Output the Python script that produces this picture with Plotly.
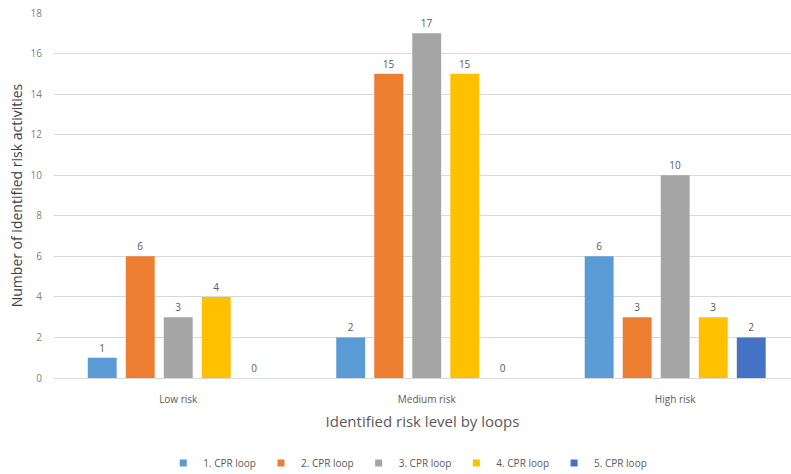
import plotly.graph_objects as go

categories = ["Low risk", "Medium risk", "High risk"]
series_names = ["1. CPR loop", "2. CPR loop", "3. CPR loop", "4. CPR loop", "5. CPR loop"]
loop1 = [1, 2, 6]
loop2 = [6, 15, 3]
loop3 = [3, 17, 10]
loop4 = [4, 15, 3]
loop5 = [0, 0, 2]
colors = ["#5B9BD5", "#ED7D31", "#A5A5A5", "#FFC000", "#4472C4"]

W, H = 791, 474
fig = go.Figure()
for name, vals, col in zip(series_names, [loop1, loop2, loop3, loop4, loop5], colors):
    fig.add_trace(go.Bar(
        x=categories, y=vals, name=name, showlegend=False,
        marker=dict(color=col, line=dict(width=0)),
        text=[str(v) for v in vals], textposition="outside",
        textfont=dict(size=10, color="#595959"),
        cliponaxis=False,
    ))

# small square legend keys
for name, col in zip(series_names, colors):
    fig.add_trace(go.Scatter(
        x=[None], y=[None], mode="markers", name=name,
        marker=dict(symbol="square", size=7, color=col),
    ))

fig.update_layout(
    width=W, height=H,
    margin=dict(l=54, r=0, t=13, b=96, autoexpand=False),
    paper_bgcolor="white", plot_bgcolor="white",
    font=dict(family="Open Sans, sans-serif", color="#595959"),
    barmode="group", bargap=0.235, bargroupgap=0.24,
    uniformtext=dict(minsize=9, mode="show"),
    xaxis=dict(
        type="category", range=[-0.5, 2.466],
        showgrid=False, showline=False,
        ticks="outside", ticklen=12, tickcolor="rgba(0,0,0,0)",
        tickfont=dict(size=10, color="#595959"),
        title=dict(text="Identified risk level by loops", font=dict(size=15, color="#595959"), standoff=11),
    ),
    yaxis=dict(
        range=[0, 18], dtick=2, showgrid=True, gridcolor="#D9D9D9", gridwidth=1,
        zeroline=True, zerolinecolor="#D9D9D9", zerolinewidth=1,
        showline=False,
        ticks="outside", ticklen=9, tickcolor="rgba(0,0,0,0)",
        tickfont=dict(size=10, color="#7F7F7F"),
        title=dict(text="Number of identified risk activities", font=dict(size=14, color="#404040"), standoff=4),
    ),
    legend=dict(
        orientation="h", x=0.48, xanchor="center",
        yref="container", y=(H - 463) / H, yanchor="middle",
        font=dict(size=10, color="#595959"),
        itemwidth=30, traceorder="normal",
    ),
)

fig.write_html("out.html")
